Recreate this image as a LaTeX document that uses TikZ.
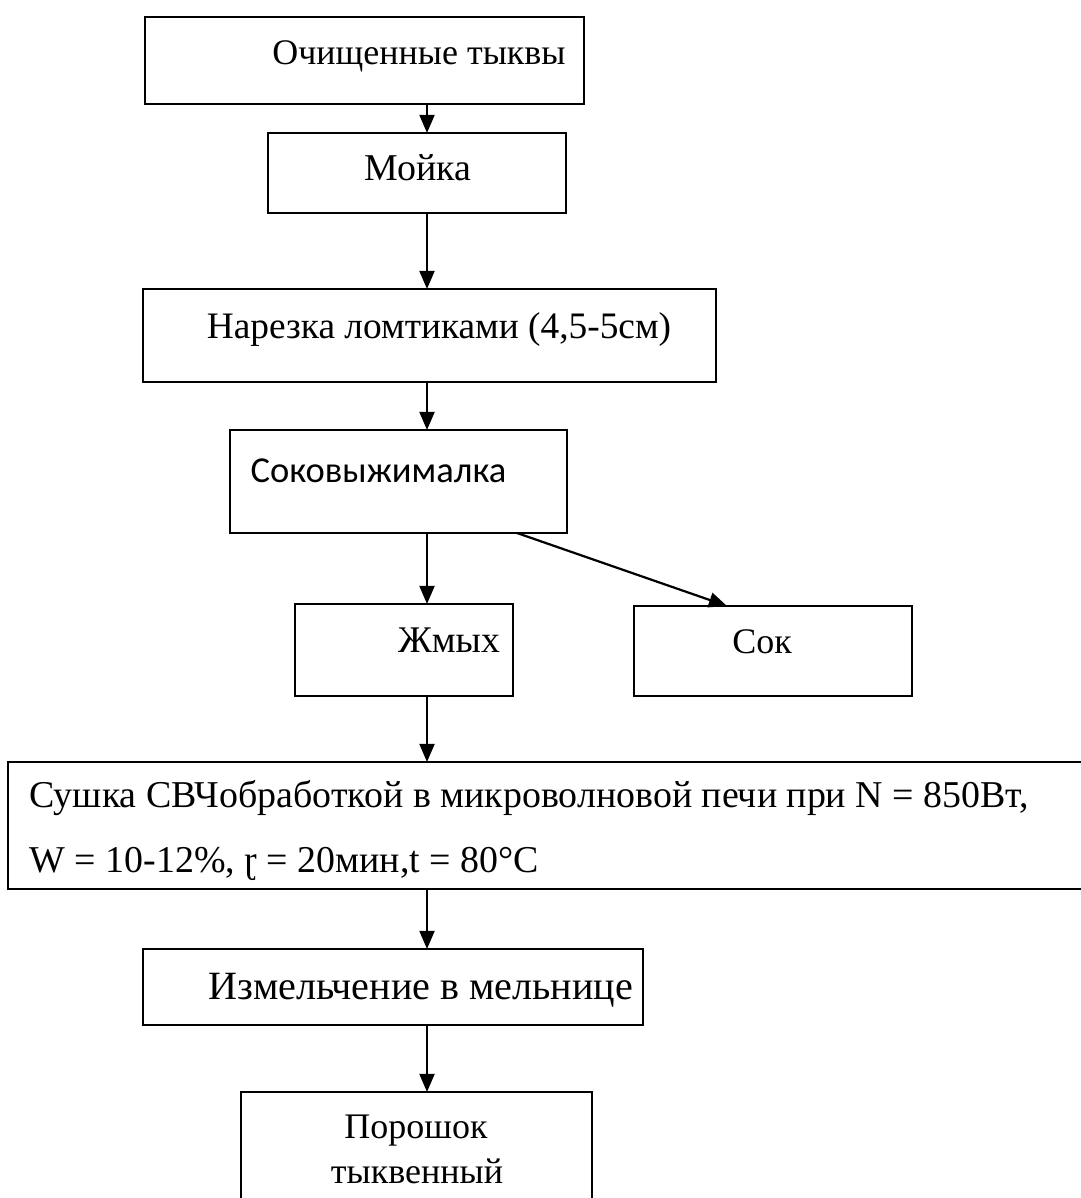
\documentclass[tikz,border=0pt]{standalone}
\usepackage{fontspec}
\setmainfont{Liberation Serif}
\newfontfamily\calibrifont{Carlito}
\usetikzlibrary{arrows.meta,calc}
\newcommand{\pu}{0.127mm}
\tikzset{
	blk/.style 2 args={draw, line width=0.8pt, inner sep=0pt, outer sep=0pt,
		minimum width=#1*\pu, minimum height=#2*\pu},
	arr/.style={line width=0.8pt, -{Triangle[length=2.3mm,width=1.9mm]}},
	txt/.style={inner sep=0pt, font=\fontsize{13}{16}\selectfont},
}

\begin{document}
\begin{tikzpicture}[x=\pu, y=-\pu]
		\useasboundingbox (0,0) rectangle (1081,1198);
		\clip (0,0) rectangle (1081,1198);
		% boxes
		\node[blk={439}{87}] (clean) at (364.5,60.5) {};
		\node[blk={298}{80}] (wash) at (417,173) {};
		\node[blk={573}{93}] (cut) at (429.5,335.5) {};
		\node[blk={337}{103}] (juicer) at (398.5,481.5) {};
		\node[blk={218}{92}] (cake) at (404,650) {};
		\node[blk={278}{90}] (juice) at (773,651) {};
		\node[blk={1087}{127}] (dry) at (551.5,825.5) {};
		\node[blk={500}{76}] (grind) at (393,987) {};
		\node[blk={351}{123}] (powder) at (416.5,1153.5) {};
		% texts
		\node[txt, anchor=base] (clean-t) at (419,65) {Очищенные тыквы};
		\node[txt, anchor=base, font=\fontsize{13.7}{16}\selectfont] (wash-t) at (418,181) {Мойка};
		\node[txt, anchor=base, font=\fontsize{13.5}{16}\selectfont] (cut-t) at (439,339) {Нарезка ломтиками (4,5-5см)};
		\node[txt, anchor=base west, font=\calibrifont\fontsize{13.2}{16}\selectfont] (juicer-t) at (250,482) {Соковыжималка};
		\node[txt, anchor=base, font=\fontsize{13.6}{16}\selectfont] (cake-t) at (449,652) {Жмых};
		\node[txt, anchor=base] (juice-t) at (762,653) {Сок};
		\node[txt, anchor=base west, font=\fontsize{13.7}{16}\selectfont] (dry-a) at (29,807) {Сушка СВЧобработкой в микроволновой печи при N = 850Вт,};
		\node[txt, anchor=base west, font=\fontsize{13.7}{16}\selectfont] (dry-b) at (29,872) {W = 10-12\%, ɽ = 20мин,t = 80°C};
		\node[txt, anchor=base, font=\fontsize{14.5}{16}\selectfont] (grind-t) at (421,999) {Измельчение в мельнице};
		\node[txt, anchor=base] (powder-a) at (416,1138) {Порошок};
		\node[txt, anchor=base] (powder-b) at (417,1183) {тыквенный};
		% arrows
		\coordinate (axis) at (427,0);
		\draw[arr] (clean.south -| axis) -- (wash.north -| axis);
		\draw[arr] (wash.south -| axis) -- (cut.north -| axis);
		\draw[arr] (cut.south -| axis) -- (juicer.north -| axis);
		\draw[arr] (juicer.south -| axis) -- (cake.north -| axis);
		\draw[arr] ($(juicer.south east)+(-50,0)$) -- ($(juice.north)+(-46,0)$);
		\draw[arr] (cake.south -| axis) -- (dry.north -| axis);
		\draw[arr] (dry.south -| axis) -- (grind.north -| axis);
		\draw[arr] (grind.south -| axis) -- (powder.north -| axis);
	\end{tikzpicture}
\end{document}
